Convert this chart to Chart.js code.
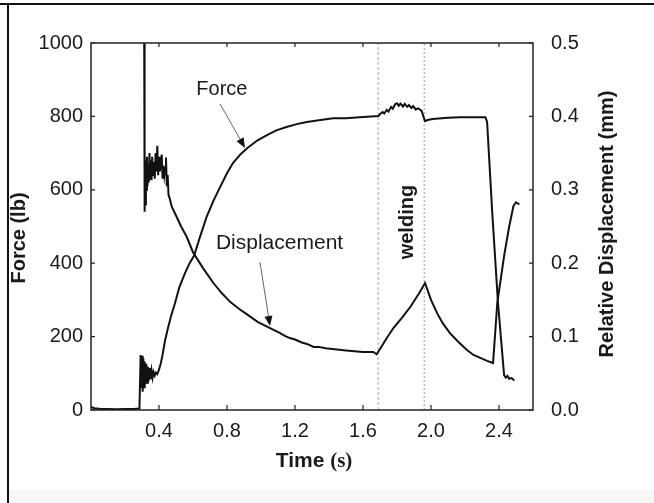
<!DOCTYPE html>
<html>
<head>
<meta charset="utf-8">
<title>Force and displacement</title>
<script src="https://cdn.jsdelivr.net/npm/chart.js@4.4.1/dist/chart.umd.min.js"></script>
<style>
  html, body { margin: 0; padding: 0; background: #fff; }
  #wrap { width: 654px; height: 503px; position: relative; }
</style>
</head>
<body>
<div id="wrap"><canvas id="chart"></canvas></div>
<script>
// Force (lb) vs time (s)
const forceTime = [0.00, 0.02, 0.06, 0.10, 0.15, 0.20, 0.25, 0.285,
  0.292, 0.296, 0.300, 0.304, 0.308, 0.312, 0.316, 0.320, 0.325, 0.330, 0.335, 0.340,
  0.345, 0.350, 0.356, 0.362, 0.368, 0.375, 0.382, 0.39, 0.40, 0.41, 0.42, 0.435,
  0.45, 0.47, 0.494, 0.52, 0.553, 0.58, 0.606, 0.64, 0.68, 0.72, 0.76, 0.80, 0.835,
  0.88, 0.92, 0.98, 1.035, 1.09, 1.15, 1.21, 1.27, 1.35, 1.425, 1.50, 1.58, 1.69,
  1.70, 1.715, 1.725, 1.74, 1.75, 1.765, 1.775, 1.79, 1.80, 1.81, 1.82, 1.835, 1.845,
  1.86, 1.87, 1.885, 1.895, 1.91, 1.925, 1.945, 1.955, 1.965, 1.98, 2.01, 2.10, 2.17,
  2.25, 2.32, 2.33, 2.36, 2.394, 2.43, 2.44, 2.45, 2.46, 2.475, 2.49];
const forceValues = [8, 5, 3, 3, 2, 3, 3, 4,
  150, 60, 148, 50, 140, 62, 132, 70, 126, 74, 118, 80,
  114, 84, 108, 88, 104, 94, 102, 98, 110, 126, 148, 188,
  218, 255, 291, 335, 373, 400, 420, 470, 526, 570, 608, 645, 673,
  697, 714, 735, 749, 762, 771, 779, 785, 790, 795, 795, 798, 801,
  806, 812, 808, 818, 813, 826, 821, 834, 836, 829, 835, 827, 834,
  826, 831, 823, 828, 819, 822, 815, 800, 787, 790, 793, 796, 798,
  798, 798, 785, 540, 292, 95, 88, 93, 85, 87, 80];

// Relative displacement (mm) vs time (s)
const dispTime = [0.313, 0.314, 0.317, 0.320, 0.323, 0.326, 0.329, 0.332, 0.336, 0.340,
  0.344, 0.348, 0.352, 0.356, 0.360, 0.365, 0.370, 0.375, 0.380, 0.385, 0.390, 0.395,
  0.400, 0.405, 0.410, 0.416, 0.421, 0.426, 0.431, 0.436, 0.441, 0.446, 0.451, 0.456,
  0.462, 0.475, 0.50, 0.53, 0.563, 0.60, 0.66, 0.72, 0.77, 0.82, 0.87, 0.92, 0.98,
  1.05, 1.11, 1.14, 1.17, 1.20, 1.24, 1.27, 1.31, 1.34, 1.38, 1.42, 1.46, 1.50, 1.55,
  1.60, 1.66, 1.68, 1.70, 1.74, 1.78, 1.83, 1.88, 1.93, 1.965, 2.00, 2.04, 2.07, 2.11,
  2.16, 2.21, 2.25, 2.29, 2.33, 2.365, 2.39, 2.43, 2.46, 2.485, 2.50, 2.52];
const dispValues = [0.500, 0.270, 0.325, 0.280, 0.340, 0.300, 0.345, 0.305, 0.335, 0.310,
  0.350, 0.315, 0.340, 0.313, 0.345, 0.320, 0.338, 0.315, 0.350, 0.325, 0.360, 0.320,
  0.345, 0.325, 0.335, 0.348, 0.315, 0.333, 0.320, 0.330, 0.344, 0.305, 0.320, 0.293,
  0.289, 0.277, 0.265, 0.250, 0.236, 0.215, 0.193, 0.173, 0.159, 0.147, 0.138, 0.130, 0.120,
  0.112, 0.105, 0.101, 0.098, 0.096, 0.092, 0.090, 0.086, 0.086, 0.084, 0.083, 0.082, 0.081, 0.080,
  0.079, 0.079, 0.076, 0.083, 0.098, 0.112, 0.126, 0.141, 0.159, 0.173, 0.150, 0.130, 0.118, 0.105,
  0.093, 0.082, 0.075, 0.071, 0.067, 0.064, 0.146, 0.210, 0.250, 0.278, 0.283, 0.280];

// welding window (s)
const weldingTimes = [1.69, 1.96];

// axis ticks
const timeTicks = [0.4, 0.8, 1.2, 1.6, 2.0, 2.4];
const forceTicks = [0, 200, 400, 600, 800, 1000];
const dispTicks = [0, 0.1, 0.2, 0.3, 0.4, 0.5];

const toPoints = (xs, ys) => xs.map((x, i) => ({ x: x, y: ys[i] }));

// text notes, placed in data units (time, force)
const notes = [
  { text: 'Force', t: 0.77, f: 873, font: '20px "Liberation Sans", Arial, sans-serif' },
  { text: 'Displacement', t: 1.109, f: 454, font: '21px "Liberation Sans", Arial, sans-serif' },
  { text: 'welding', t: 1.859, f: 512, font: 'bold 20px "Liberation Sans", Arial, sans-serif', rotate: true }
];
const arrows = [
  { from: [0.759, 834], to: [0.906, 714] },
  { from: [0.994, 403], to: [1.053, 229] }
];

const decor = {
  id: 'decor',
  beforeDraw(chart) {
    const ctx = chart.ctx;
    ctx.save();
    ctx.fillStyle = '#fff';
    ctx.fillRect(0, 0, chart.width, chart.height);
    ctx.fillStyle = '#f7f7f7';
    ctx.fillRect(9, 490, chart.width - 9, chart.height - 490);
    ctx.strokeStyle = '#111';
    ctx.lineWidth = 2;
    ctx.beginPath();
    ctx.moveTo(0, 4); ctx.lineTo(chart.width, 4);
    ctx.moveTo(8, 4); ctx.lineTo(8, chart.height);
    ctx.stroke();
    ctx.restore();
  },
  afterDraw(chart) {
    const ctx = chart.ctx;
    const a = chart.chartArea;
    const sx = chart.scales.x, sy = chart.scales.y, sy2 = chart.scales.y2;
    ctx.save();
    // frame
    ctx.strokeStyle = '#222';
    ctx.lineWidth = 1.5;
    ctx.strokeRect(a.left, a.top, a.right - a.left, a.bottom - a.top);
    // inner ticks
    ctx.lineWidth = 1.2;
    ctx.beginPath();
    sx.ticks.forEach(tk => {
      const px = sx.getPixelForValue(tk.value);
      ctx.moveTo(px, a.bottom); ctx.lineTo(px, a.bottom - 5);
      ctx.moveTo(px, a.top); ctx.lineTo(px, a.top + 4);
    });
    sy.ticks.forEach(tk => {
      const py = sy.getPixelForValue(tk.value);
      ctx.moveTo(a.left, py); ctx.lineTo(a.left + 4, py);
    });
    sy2.ticks.forEach(tk => {
      const py = sy2.getPixelForValue(tk.value);
      ctx.moveTo(a.right, py); ctx.lineTo(a.right - 4, py);
    });
    ctx.stroke();

    // arrows
    arrows.forEach(ar => {
      const x1 = sx.getPixelForValue(ar.from[0]), y1 = sy.getPixelForValue(ar.from[1]);
      const x2 = sx.getPixelForValue(ar.to[0]), y2 = sy.getPixelForValue(ar.to[1]);
      const ang = Math.atan2(y2 - y1, x2 - x1);
      const len = 10, half = 4;
      const bx = x2 - len * Math.cos(ang), by = y2 - len * Math.sin(ang);
      ctx.strokeStyle = '#666';
      ctx.lineWidth = 1;
      ctx.beginPath();
      ctx.moveTo(x1, y1); ctx.lineTo(bx, by);
      ctx.stroke();
      ctx.fillStyle = '#111';
      ctx.beginPath();
      ctx.moveTo(x2, y2);
      ctx.lineTo(bx + half * Math.sin(ang), by - half * Math.cos(ang));
      ctx.lineTo(bx - half * Math.sin(ang), by + half * Math.cos(ang));
      ctx.closePath();
      ctx.fill();
    });

    // notes
    ctx.fillStyle = '#1a1a1a';
    ctx.textAlign = 'center';
    ctx.textBaseline = 'middle';
    notes.forEach(n => {
      const px = sx.getPixelForValue(n.t), py = sy.getPixelForValue(n.f);
      ctx.font = n.font;
      if (n.rotate) {
        ctx.save();
        ctx.translate(px, py);
        ctx.rotate(-Math.PI / 2);
        ctx.fillText(n.text, 0, 0);
        ctx.restore();
      } else {
        ctx.fillText(n.text, px, py);
      }
    });

    // axis titles
    const boldSans = 'bold 20px "Liberation Sans", Arial, sans-serif';
    ctx.font = boldSans;
    ctx.save();
    ctx.translate(19, 238);
    ctx.rotate(-Math.PI / 2);
    ctx.fillText('Force (lb)', 0, 0);
    ctx.restore();
    ctx.save();
    ctx.translate(607, 224);
    ctx.rotate(-Math.PI / 2);
    ctx.fillText('Relative Displacement (mm)', 0, 0);
    ctx.restore();

    const part1 = 'Time ', part2 = '(s)';
    const f1 = 'bold 21px "Liberation Sans", Arial, sans-serif';
    const f2 = 'bold 21px "Liberation Serif", "Times New Roman", serif';
    ctx.font = f1; const w1 = ctx.measureText(part1).width;
    ctx.font = f2; const w2 = ctx.measureText(part2).width;
    const startX = (a.left + a.right) / 2 + 2 - (w1 + w2) / 2;
    ctx.textAlign = 'left';
    ctx.font = f1; ctx.fillText(part1, startX, 461);
    ctx.font = f2; ctx.fillText(part2, startX + w1, 462);
    ctx.restore();
  }
};

const tickFont = { family: '"Liberation Sans", Arial, sans-serif', size: 20 };

new Chart(document.getElementById('chart'), {
  type: 'line',
  data: {
    datasets: [
      {
        label: 'Force',
        data: toPoints(forceTime, forceValues),
        yAxisID: 'y',
        borderColor: '#111',
        borderWidth: 2,
        pointRadius: 0,
        tension: 0,
        order: 0
      },
      {
        label: 'Displacement',
        data: toPoints(dispTime, dispValues),
        yAxisID: 'y2',
        borderColor: '#111',
        borderWidth: 2,
        pointRadius: 0,
        tension: 0,
        order: 0
      },
      {
        label: 'weld start',
        data: [{ x: weldingTimes[0], y: 0 }, { x: weldingTimes[0], y: 1000 }],
        yAxisID: 'y',
        borderColor: '#cfcfcf',
        borderWidth: 2,
        borderDash: [3, 2],
        pointRadius: 0,
        order: 5
      },
      {
        label: 'weld end',
        data: [{ x: weldingTimes[1], y: 0 }, { x: weldingTimes[1], y: 1000 }],
        yAxisID: 'y',
        borderColor: '#9a9a9a',
        borderWidth: 1,
        borderDash: [2, 2],
        pointRadius: 0,
        order: 5
      }
    ]
  },
  options: {
    responsive: true,
    maintainAspectRatio: false,
    animation: false,
    layout: { padding: { top: 43, left: 0, right: 0, bottom: 0 } },
    plugins: {
      legend: { display: false },
      tooltip: { enabled: false }
    },
    scales: {
      x: {
        type: 'linear',
        min: 0,
        max: 2.6,
        afterBuildTicks: s => { s.ticks = timeTicks.map(v => ({ value: v })); },
        afterFit: s => { s.height = 93; },
        grid: { display: false, drawTicks: false },
        border: { display: false },
        ticks: {
          padding: 9,
          color: '#1a1a1a',
          font: tickFont,
          maxRotation: 0,
          callback: v => v.toFixed(1)
        }
      },
      y: {
        position: 'left',
        min: 0,
        max: 1000,
        afterBuildTicks: s => { s.ticks = forceTicks.map(v => ({ value: v })); },
        afterFit: s => { s.width = 91; },
        grid: { display: false, drawTicks: false },
        border: { display: false },
        ticks: { padding: 8, color: '#1a1a1a', font: tickFont, callback: v => String(v) }
      },
      y2: {
        position: 'right',
        min: 0,
        max: 0.5,
        afterBuildTicks: s => { s.ticks = dispTicks.map(v => ({ value: v })); },
        afterFit: s => { s.width = 121; },
        grid: { display: false, drawTicks: false },
        border: { display: false },
        ticks: { padding: 18, color: '#1a1a1a', font: tickFont, callback: v => v.toFixed(1) }
      }
    }
  },
  plugins: [decor]
});
</script>
</body>
</html>
